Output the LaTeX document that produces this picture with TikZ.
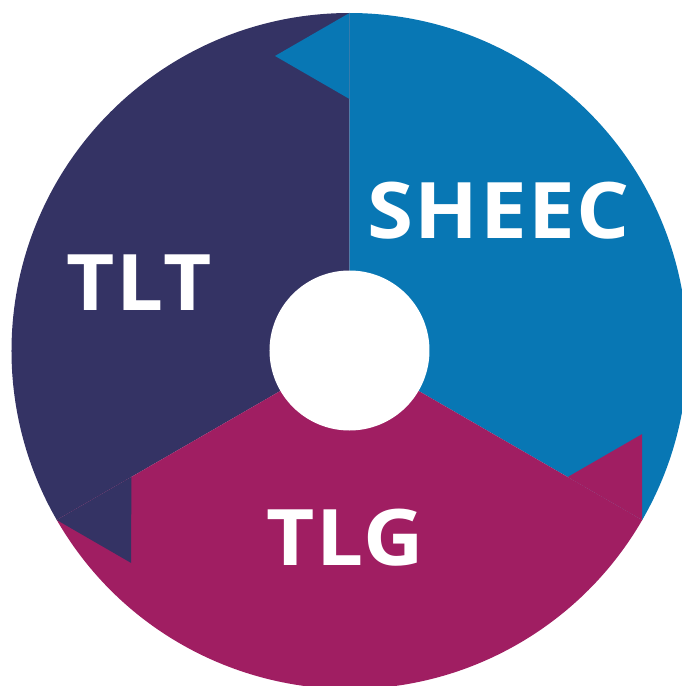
\documentclass[tikz,border=0pt]{standalone}
\usepackage{fontspec}
\setmainfont{Open Sans}[BoldFeatures={FakeStretch=1.07,LetterSpace=2}]
\definecolor{navyc}{RGB}{52,51,100}
\definecolor{bluec}{RGB}{8,119,180}
\definecolor{magc}{RGB}{160,30,98}
\begin{document}
\begin{tikzpicture}[x=1pt,y=1pt,
  lbl/.style={text=white,inner sep=0pt,font=\fontsize{78}{78}\selectfont\bfseries}]
\def\Ro{338pt}
\def\Rb{252pt}
\def\Rt{304.3pt}
\def\dA{14.17}
\useasboundingbox (-349.5,-335) rectangle (331.5,351);
% sectors
\fill[bluec] (0,0) -- (-30:\Ro) arc[start angle=-30,end angle=90,radius=\Ro] -- cycle;
\fill[navyc] (0,0) -- (90:\Ro) arc[start angle=90,end angle=210,radius=\Ro] -- cycle;
\fill[magc] (0,0) -- (210:\Ro) arc[start angle=210,end angle=330,radius=\Ro] -- cycle;
% arrow tips
\fill[bluec] (90:\Rb) -- (90:\Ro) -- (90+\dA:\Rt) -- cycle;
\fill[navyc] (210:\Rb) -- (210:\Ro) -- (210+\dA:\Rt) -- cycle;
\fill[magc] (330:\Rb) -- (330:\Ro) -- (330+\dA:\Rt) -- cycle;
% hole
\fill[white] (0,0.5) circle[radius=80pt];
% labels
\node[lbl] (sheec) at (149,140.5) {SHEEC};
\node[lbl] (tlt) at (-210.5,68.5) {TLT};
\node[lbl] (tlg) at (-4,-187) {TLG};
\end{tikzpicture}
\end{document}
